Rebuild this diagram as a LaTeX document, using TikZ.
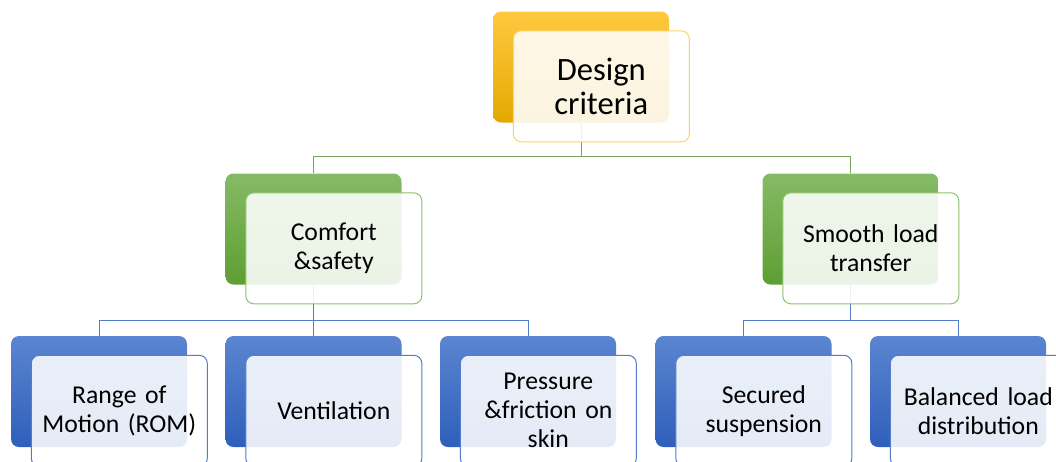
\documentclass[tikz,border=0pt]{standalone}
\usepackage{fontspec}
\setmainfont{Carlito}
\usepackage{tikz}
\usetikzlibrary{positioning}
\usetikzlibrary{backgrounds}

\definecolor{goldtop}{RGB}{255,201,64}
\definecolor{goldbot}{RGB}{229,168,0}
\definecolor{goldline}{RGB}{255,211,92}
\definecolor{greentop}{RGB}{133,187,101}
\definecolor{greenbot}{RGB}{94,158,50}
\definecolor{greenline}{RGB}{140,194,108}
\definecolor{bluetop}{RGB}{91,133,208}
\definecolor{bluebot}{RGB}{47,95,187}
\definecolor{blueline}{RGB}{84,124,202}

\begin{document}
\begin{tikzpicture}[x=1pt, y=-1pt,
                          backbox/.style={rectangle, rounded corners=8pt, minimum width=176pt, minimum height=111pt, inner sep=0pt},
                          frontbox/.style={rectangle, rounded corners=8pt, draw, line width=1pt, fill=white, fill opacity=0.88, text opacity=1, text width=160pt, inner sep=8pt, minimum height=111pt, align=center, font=\fontsize{25.7}{29}\selectfont},
                          topback/.style={backbox, top color=goldtop, bottom color=goldbot},
                          topfront/.style={frontbox, draw=goldline, font=\fontsize{32.6}{34}\selectfont},
                          midback/.style={backbox, top color=greentop, bottom color=greenbot},
                          midfront/.style={frontbox, draw=greenline},
                          lowback/.style={backbox, top color=bluetop, bottom color=bluebot},
                          lowfront/.style={frontbox, draw=blueline},
                          greenlink/.style={draw=greenline!85!black, line width=1pt},
                          bluelink/.style={draw=blueline, line width=1pt},
                      ]
                      \useasboundingbox (0,0) rectangle (1056,461);
                      \clip (0,0) rectangle (1056,461);

                      %Nodes
                      \node[topback]      (design_b)     at (581,67)      {};
                      \node[topfront, anchor=north west]  (design)  at ([shift={(20,19)}]design_b.north west)  {Design\\criteria};

                      \node[midback]      (comfort_b)    at (313.5,229)   {};
                      \node[midfront, anchor=north west]  (comfort)  at ([shift={(20,19)}]comfort_b.north west)  {Comfort\\\&safety};
                      \node[midback]      (smooth_b)     at (850.5,229)   {};
                      \node[midfront, anchor=north west]  (smooth)  at ([shift={(20,19)}]smooth_b.north west)  {Smooth load\\transfer};

                      \node[lowback]      (range_b)      at (99,391.5)    {};
                      \node[lowfront, anchor=north west]  (range)  at ([shift={(20,19)}]range_b.north west)  {Range of\\Motion (ROM)};
                      \node[lowback]      (vent_b)       at (313.5,391.5) {};
                      \node[lowfront, anchor=north west]  (vent)  at ([shift={(20,19)}]vent_b.north west)  {Ventilation};
                      \node[lowback]      (press_b)      at (528,391.5)   {};
                      \node[lowfront, anchor=north west]  (press)  at ([shift={(20,19)}]press_b.north west)  {Pressure\\\&friction on\\skin};
                      \node[lowback]      (secured_b)    at (743.5,391.5) {};
                      \node[lowfront, anchor=north west]  (secured)  at ([shift={(20,19)}]secured_b.north west)  {Secured\\suspension};
                      \node[lowback]      (balanced_b)   at (958,391.5)   {};
                      \node[lowfront, anchor=north west]  (balanced)  at ([shift={(20,19)}]balanced_b.north west)  {Balanced load\\distribution};

                      %Lines
                      \begin{scope}[on background layer]
                      \draw[greenlink] (design_b.south) -- ++(0,34) -| (comfort_b.north);
                      \draw[greenlink] (design_b.south) -- ++(0,34) -| (smooth_b.north);
                      \draw[bluelink] (comfort_b.south) -- ++(0,36) -| (range_b.north);
                      \draw[bluelink] (comfort_b.south) -- ++(0,36) -| (vent_b.north);
                      \draw[bluelink] (comfort_b.south) -- ++(0,36) -| (press_b.north);
                      \draw[bluelink] (smooth_b.south) -- ++(0,36) -| (secured_b.north);
                      \draw[bluelink] (smooth_b.south) -- ++(0,36) -| (balanced_b.north);
                      \end{scope}
                  \end{tikzpicture}
\end{document}
